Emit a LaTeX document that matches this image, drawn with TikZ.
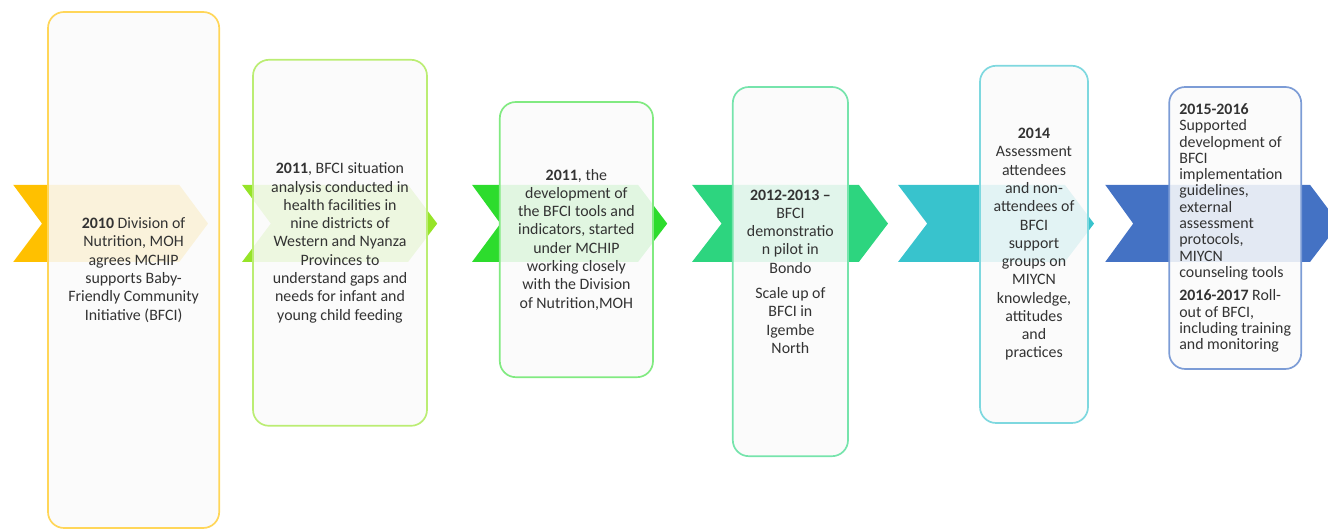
\documentclass[tikz,border=0pt]{standalone}
\usepackage{fontspec}
\setmainfont{Carlito}
\usepackage{tikz}
\usetikzlibrary{positioning}
\definecolor{amber}{RGB}{255, 192, 0}
\definecolor{springlime}{RGB}{150, 228, 40}
\definecolor{grassgreen}{RGB}{45, 220, 45}
\definecolor{emerald}{RGB}{45, 213, 127}
\definecolor{turquoise}{RGB}{56, 195, 205}
\definecolor{royal}{RGB}{68, 114, 196}

\begin{document}
\begin{tikzpicture}[
        stage/.style={draw=#1, line width=1.2pt, rounded corners=0.4cm,
                      fill=black!2, fill opacity=0.88, text opacity=1,
                      text=black!80, align=center, inner sep=0pt,
                      font=\fontsize{11.3}{13}\selectfont}]
            % Frame
            \clip (0.00, 0.00) rectangle (33.20, 13.25);
            % Chevrons
            \fill[amber]      ( 0.33, 8.63) -- ( 4.48, 8.63) -- ( 5.20, 7.66) -- ( 4.48, 6.70) -- ( 0.33, 6.70) -- ( 1.05, 7.66) -- cycle;
            \fill[springlime] ( 6.05, 8.63) -- (10.20, 8.63) -- (10.93, 7.66) -- (10.20, 6.70) -- ( 6.05, 6.70) -- ( 6.77, 7.66) -- cycle;
            \fill[grassgreen] (11.80, 8.63) -- (15.95, 8.63) -- (16.68, 7.66) -- (15.95, 6.70) -- (11.80, 6.70) -- (12.51, 7.66) -- cycle;
            \fill[emerald]    (17.30, 8.63) -- (21.47, 8.63) -- (22.20, 7.66) -- (21.47, 6.70) -- (17.30, 6.70) -- (18.04, 7.66) -- cycle;
            \fill[turquoise]  (22.45, 8.63) -- (26.62, 8.63) -- (27.35, 7.66) -- (26.62, 6.70) -- (22.45, 6.70) -- (23.18, 7.66) -- cycle;
            \fill[royal]      (27.63, 8.63) -- (32.75, 8.63) -- (33.48, 7.66) -- (32.75, 6.70) -- (27.63, 6.70) -- (28.33, 7.66) -- cycle;
            % Milestones
            \node[stage=amber!65, minimum width=4.28cm, minimum height=12.90cm] (y2010) at ( 3.34, 6.50)
                 {\textbf{2010} Division of\\Nutrition, MOH\\agrees MCHIP\\supports Baby-\\Friendly Community\\Initiative (BFCI)};
            \node[stage=springlime!65, minimum width=4.35cm, minimum height=9.15cm] (y2011a) at ( 8.50, 7.18)
                 {\textbf{2011}, BFCI situation\\analysis conducted in\\health facilities in\\nine districts of\\Western and Nyanza\\Provinces to\\understand gaps and\\needs for infant and\\young child feeding};
            \node[stage=grassgreen!60, minimum width=3.83cm, minimum height=6.88cm] (y2011b) at (14.41, 7.26)
                 {\textbf{2011}, the\\development of\\the BFCI tools and\\indicators, started\\under MCHIP\\working closely\\with the Division\\of Nutrition,MOH};
            \node[stage=emerald!65, minimum width=2.88cm, minimum height=9.23cm] (y2012) at (19.76, 6.46)
                 {\textbf{2012-2013 --}\\BFCI\\demonstratio\\n pilot in\\Bondo\\[5pt]Scale up of\\BFCI in\\Igembe\\North};
            \node[stage=turquoise!65, minimum width=2.70cm, minimum height=8.93cm] (y2014) at (25.85, 7.14)
                 {\textbf{2014}\\Assessment\\attendees\\and non-\\attendees of\\BFCI\\support\\groups on\\MIYCN\\knowledge,\\attitudes\\and\\practices};
            \node[stage=royal!70, align=left, font=\fontsize{11.3}{11.6}\selectfont,
                  minimum width=3.30cm, minimum height=7.05cm] (y2015) at (30.88, 7.55)
                 {\textbf{2015-2016}\\Supported\\development of\\BFCI\\implementation\\guidelines,\\external\\assessment\\protocols,\\MIYCN\\counseling tools\\[5pt]\textbf{2016-2017} Roll-\\out of BFCI,\\including training\\and monitoring};
\end{tikzpicture}
\end{document}
